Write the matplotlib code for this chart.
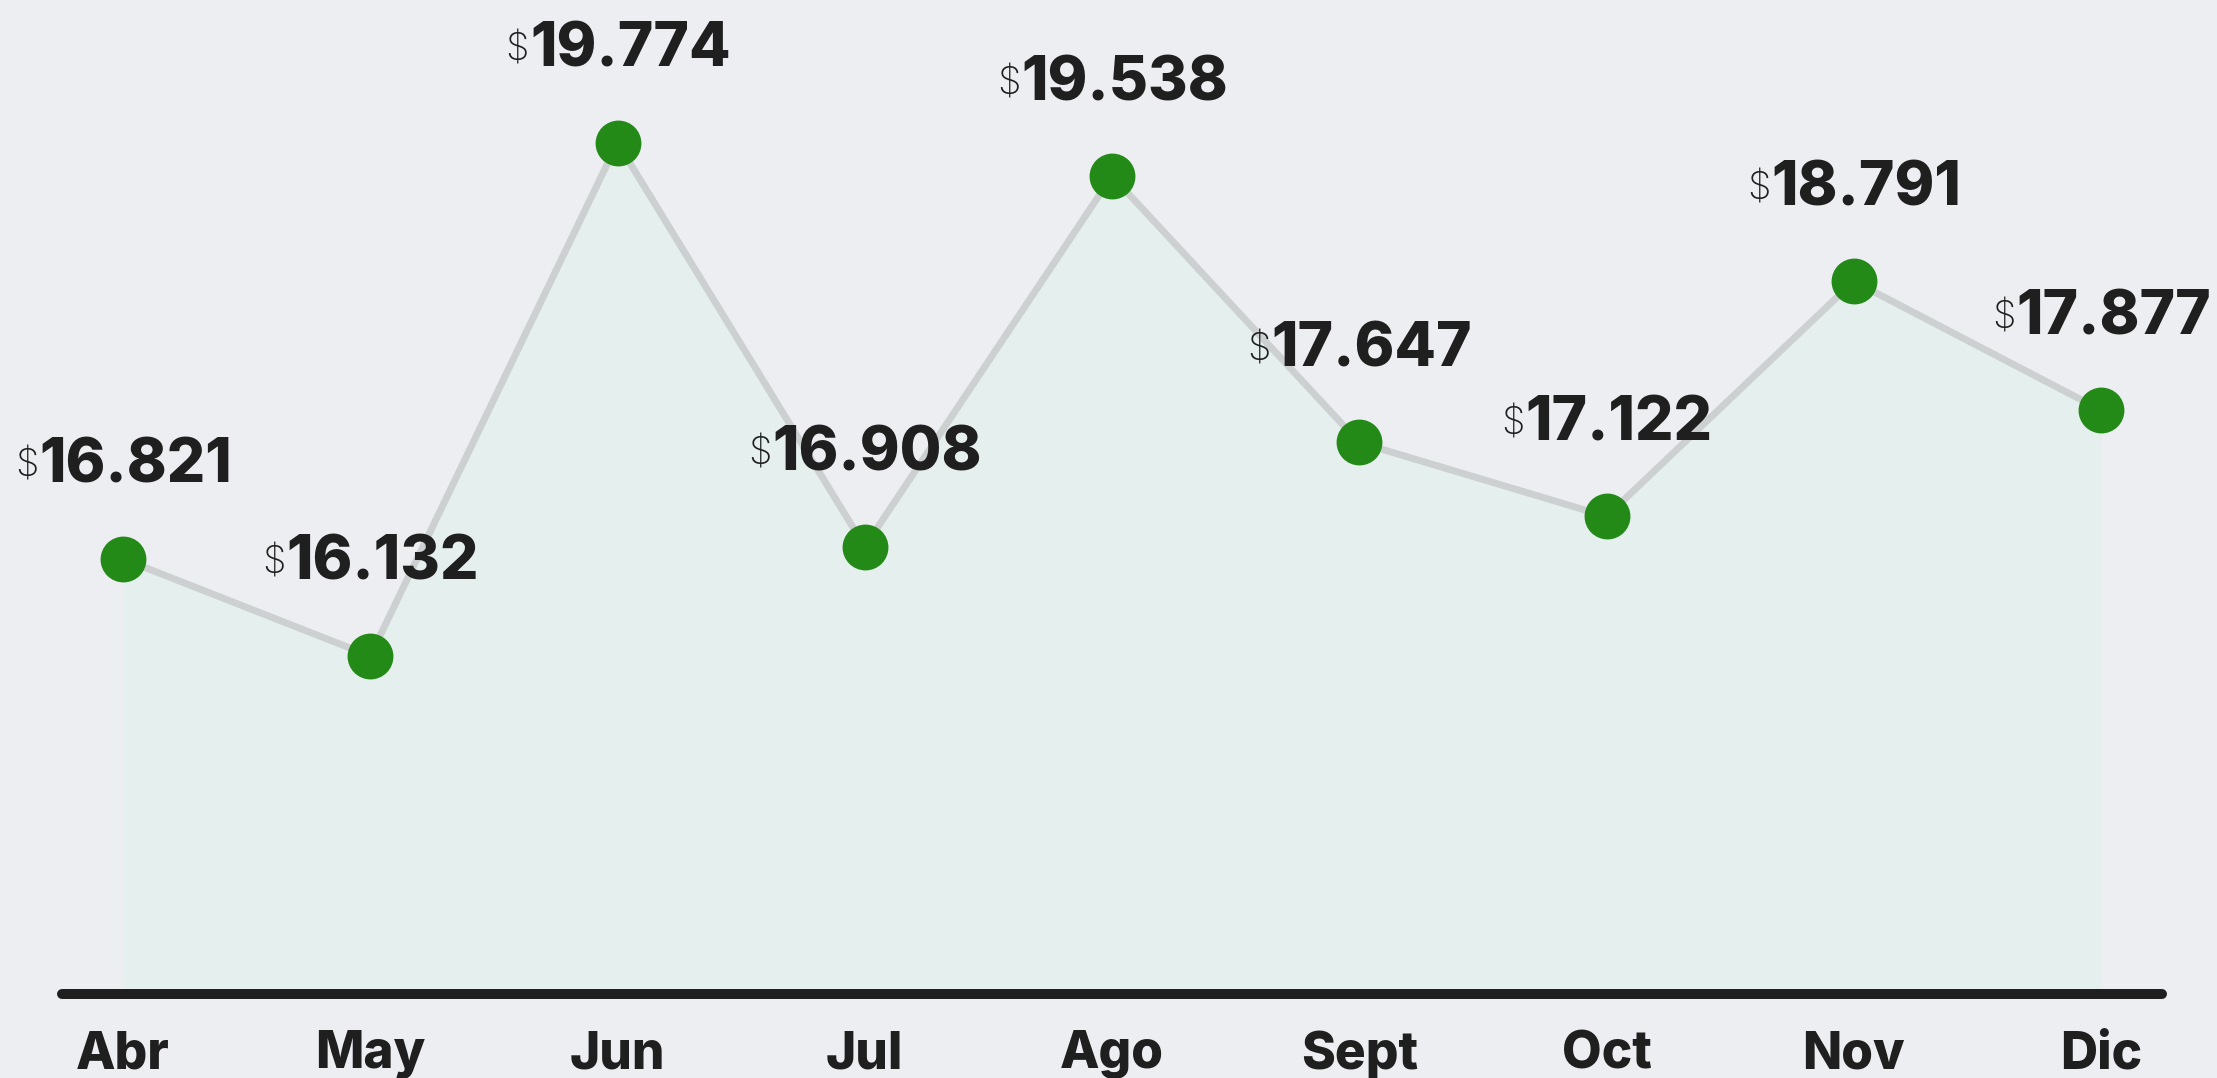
import numpy as np
import matplotlib.pyplot as plt

plt.rcParams['font.family'] = ['Inter', 'DejaVu Sans']

months = ['Abr', 'May', 'Jun', 'Jul', 'Ago', 'Sept', 'Oct', 'Nov', 'Dic']
values = [16.821, 16.132, 19.774, 16.908, 19.538, 17.647, 17.122, 18.791, 17.877]
labels = ['16.821', '16.132', '19.774', '16.908', '19.538', '17.647', '17.122', '18.791', '17.877']

bg = '#edeef2'
ink = '#1f1f1f'
green = '#238a18'

fig = plt.figure(figsize=(22.17, 10.78), dpi=100, facecolor=bg)
ax = fig.add_axes([0, 0.0779, 1, 0.9221])
ax.set_facecolor(bg)

x = np.arange(len(months))
base = 13.733
ax.fill_between(x, values, base, color='#e5efed', zorder=1, linewidth=0)
ax.plot(x, values, color='#cdd0d1', linewidth=5, zorder=2, solid_capstyle='round')
ax.plot(x, values, 'o', color=green, markersize=32, zorder=3)

ax.set_xlim(-0.4975, 8.469)
ax.set_ylim(base, 20.787)

for s in ['top', 'left', 'right']:
    ax.spines[s].set_visible(False)
ax.spines['bottom'].set_bounds(-0.247, 8.247)
ax.spines['bottom'].set_linewidth(7.2)
ax.spines['bottom'].set_color(ink)
ax.spines['bottom'].set_capstyle('round')
ax.set_yticks([])
ax.set_xticks(x)
ax.set_xticklabels(months, fontsize=37, fontweight='heavy', color=ink)
ax.tick_params(axis='x', length=0, pad=26)

# value labels: small "$" + heavy number, centred over each point
fig.canvas.draw()
r = fig.canvas.get_renderer()
for xi, v, lab in zip(x, values, labels):
    t1 = ax.annotate('$', (xi, v), xytext=(0, 0), textcoords='offset pixels',
                     fontsize=27, color=ink, ha='left', va='center', fontweight='light')
    t2 = ax.annotate(lab, (xi, v), xytext=(0, 0), textcoords='offset pixels',
                     fontsize=43.5, color=ink, ha='left', va='center', fontweight='heavy')
    w1 = t1.get_window_extent(r).width
    w2 = t2.get_window_extent(r).width
    left = -(w1 + w2) / 2
    t1.set_position((left, 92))
    t2.set_position((left + w1 + 1, 92))

fig.savefig('out.png', dpi=100, facecolor=bg)
